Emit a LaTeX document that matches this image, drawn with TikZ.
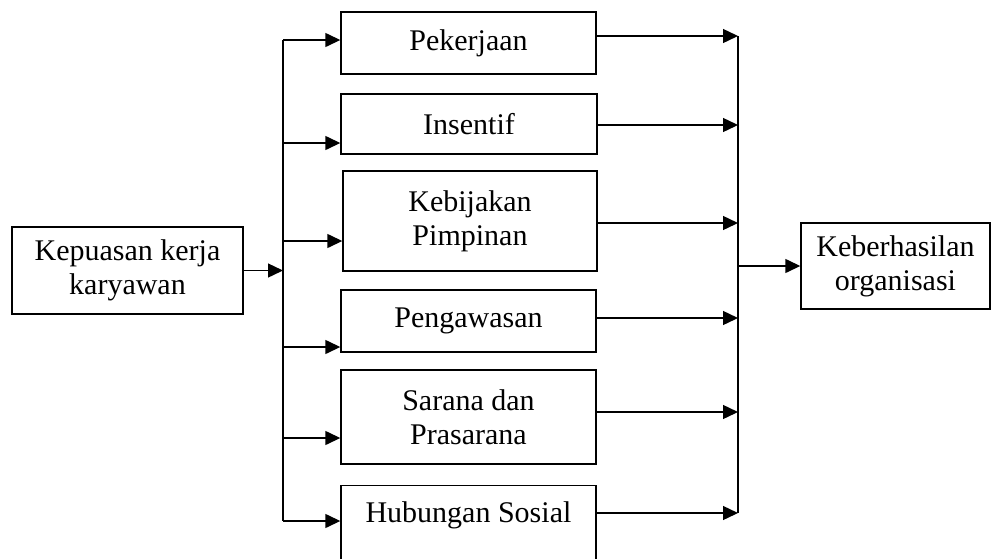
\documentclass[tikz,border=0pt]{standalone}
\usepackage{fontspec}
\setmainfont{Liberation Serif}
\usetikzlibrary{arrows.meta}

\begin{document}
\begin{tikzpicture}[x=0.5pt, y=-0.5pt,
	box/.style={draw, line width=0.7pt, align=center, inner sep=0pt, font=\fontsize{15}{17}\selectfont},
	link/.style={line width=0.7pt, -{Triangle[length=7.5pt, width=7pt]}},
	bus/.style={line width=0.7pt}]
	\clip (0,0) rectangle (992,558);

	\node[box, minimum width=115.5pt, minimum height=43.5pt] (kerja) at (127.5,270.5) {Kepuasan kerja\\karyawan};
	\node[box, minimum width=127.5pt, minimum height=31pt] (pekerjaan) at (468.5,43) {Pekerjaan};
	\node[box, minimum width=128pt, minimum height=30pt] (insentif) at (469,124) {Insentif};
	\node[box, minimum width=127pt, minimum height=50pt] (kebijakan) at (470,221) {Kebijakan\\Pimpinan};
	\node[box, minimum width=127.5pt, minimum height=31pt] (pengawasan) at (468.5,321) {Pengawasan};
	\node[box, minimum width=127.5pt, minimum height=47pt] (sarana) at (468.5,417) {Sarana dan\\Prasarana};
	\node[box, anchor=north, minimum width=127.5pt, text height=18.5pt, text depth=45pt] (hubungan) at (468.5,485) {Hubungan Sosial};
	\node[box, minimum width=94.5pt, minimum height=43pt] (hasil) at (895.5,266) {Keberhasilan\\organisasi};

	\coordinate (in1) at (283,40);
	\coordinate (in2) at (283,143);
	\coordinate (in3) at (283,241);
	\coordinate (in4) at (283,347);
	\coordinate (in5) at (283,438);
	\coordinate (in6) at (283,521);
	\coordinate (out1) at (738,36);
	\coordinate (out2) at (738,125);
	\coordinate (out3) at (738,223);
	\coordinate (out4) at (738,318);
	\coordinate (out5) at (738,412);
	\coordinate (out6) at (738,513);
	\coordinate (join) at (738,266);

	\draw[bus] (in1) -- (in6);
	\draw[bus] (out1) -- (out6);
	\draw[link] (kerja.east) -- (kerja.east -| in1);
	\draw[link] (in1) -- (in1 -| pekerjaan.west);
	\draw[link] (in2) -- (in2 -| insentif.west);
	\draw[link] (in3) -- (in3 -| kebijakan.west);
	\draw[link] (in4) -- (in4 -| pengawasan.west);
	\draw[link] (in5) -- (in5 -| sarana.west);
	\draw[link] (in6) -- (in6 -| hubungan.west);
	\draw[link] (pekerjaan.east |- out1) -- (out1);
	\draw[link] (insentif.east |- out2) -- (out2);
	\draw[link] (kebijakan.east |- out3) -- (out3);
	\draw[link] (pengawasan.east |- out4) -- (out4);
	\draw[link] (sarana.east |- out5) -- (out5);
	\draw[link] (hubungan.east |- out6) -- (out6);
	\draw[link] (join) -- (hasil.west);

\end{tikzpicture}
\end{document}
